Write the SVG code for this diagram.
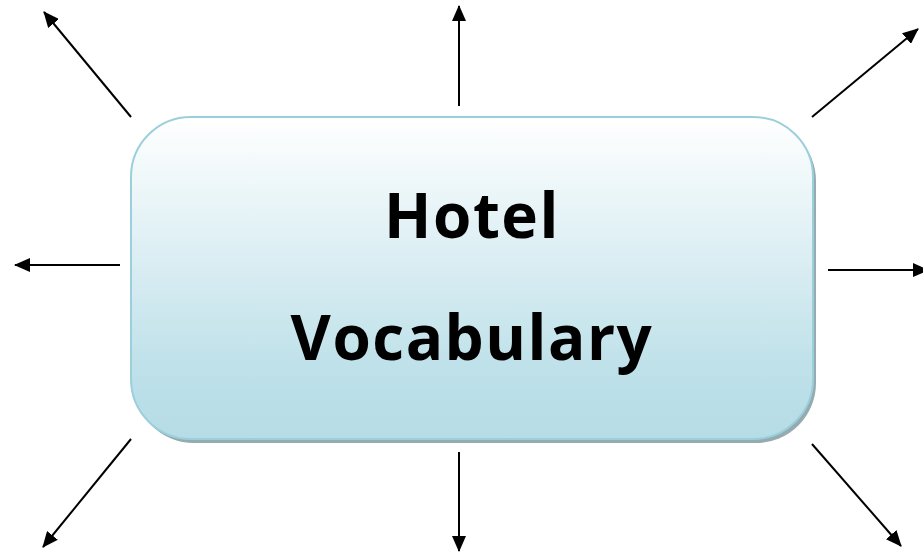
<svg xmlns="http://www.w3.org/2000/svg" width="923" height="552" viewBox="0 0 923 552">
<defs>
<linearGradient id="fill" x1="0" y1="0" x2="0" y2="1">
<stop offset="0" stop-color="#ffffff"/>
<stop offset="0.8" stop-color="#bde0e9"/>
<stop offset="1" stop-color="#b6dce6"/>
</linearGradient>
<marker id="ah2" viewBox="0 0 16 14" refX="15" refY="7" markerWidth="16" markerHeight="14" markerUnits="userSpaceOnUse" orient="auto">
<path d="M0,0 L16,7 L0,14 Z" fill="#000"/>
</marker>
<style>
.c line{stroke:#000;stroke-width:2;marker-end:url(#ah2)}
.t{font-family:"Comic Sans MS","Open Sans","DejaVu Sans",sans-serif;font-weight:bold;font-size:62px;letter-spacing:1.5px;fill:#000;text-anchor:middle}
</style>
</defs>
<g id="center">
<rect x="134" y="121" width="682" height="322" rx="60" fill="#94abb0"/>
<rect x="131" y="117" width="682" height="322" rx="60" fill="url(#fill)" stroke="#9ccfdc" stroke-width="2"/>
<text class="t" x="472" y="238">Hotel</text>
<text class="t" x="472" y="360">Vocabulary</text>
</g>
<g class="c" id="connectors">
<line x1="131" y1="117" x2="44" y2="12"/>
<line x1="459" y1="106" x2="459" y2="6"/>
<line x1="812" y1="117" x2="918" y2="29"/>
<line x1="120" y1="265" x2="15" y2="265"/>
<line x1="828" y1="270" x2="928" y2="270"/>
<line x1="131" y1="439" x2="43" y2="547"/>
<line x1="459" y1="452" x2="459" y2="551"/>
<line x1="812" y1="444" x2="901" y2="546"/>
</g>
</svg>
